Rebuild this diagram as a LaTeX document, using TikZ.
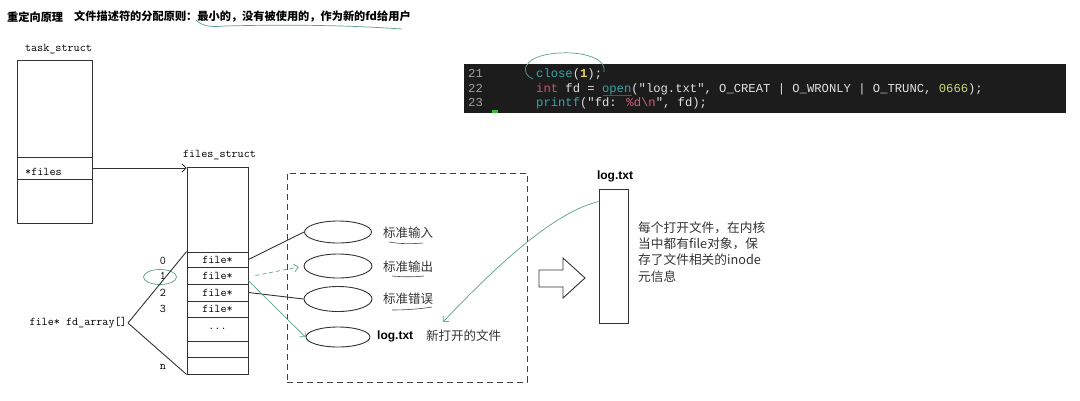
\documentclass[tikz,border=0pt]{standalone}
\usepackage{fontspec}
\usetikzlibrary{shapes.geometric,calc,arrows.meta}
\newfontfamily\cjk{Noto Sans CJK SC}
\newfontfamily\codef{Liberation Mono}
\newfontfamily\lsans{Liberation Sans}
\definecolor{handgreen}{RGB}{92,160,140}
\definecolor{darkhand}{RGB}{50,100,85}
\definecolor{codebg}{RGB}{28,28,28}
\definecolor{codewhite}{RGB}{225,225,225}
\definecolor{cfn}{RGB}{58,165,165}
\definecolor{ckw}{RGB}{210,82,110}
\definecolor{cone}{RGB}{232,215,90}
\definecolor{cnum}{RGB}{200,214,125}
\definecolor{cfmt}{RGB}{212,96,122}
\definecolor{clnum}{RGB}{160,160,160}
\definecolor{cursorgreen}{RGB}{46,192,46}
\begin{document}
\begin{tikzpicture}[x=1pt,y=-1pt,
  box/.style={draw=black!80, line width=0.9pt, inner sep=0pt},
  mono/.style={font=\ttfamily\fontsize{11.8}{13}\selectfont, text=black, inner sep=0pt},
  lab/.style={font=\cjk\fontsize{12.5}{14}\selectfont, text=black!80, inner sep=0pt, anchor=base west},
  fileov/.style={draw=black!80, line width=0.9pt, ellipse, inner sep=0pt},
  hand/.style={draw=handgreen, line width=0.7pt},
  conn/.style={draw=black!80, line width=0.9pt},
  codetxt/.style={font=\codef\fontsize{12.2}{14}\selectfont, text=codewhite, inner sep=0pt, anchor=base west},
  barb/.style={-{Straight Barb[length=4pt,width=8pt]}}
]
\useasboundingbox (0,0) rectangle (1080,400);

% title
\node[anchor=west, inner sep=0pt, font=\cjk\bfseries\fontsize{11.2}{13}\selectfont] (t1) at (7,17) {重定向原理};
\node[anchor=west, inner sep=0pt, font=\cjk\bfseries\fontsize{11.2}{13}\selectfont] (t2) at (74,17) {文件描述符的分配原则：最小的，没有被使用的，作为新的fd给用户};
\draw[hand] (196,20) .. controls (203,27) and (212,27) .. (225,26) .. controls (300,24) and (360,26) .. (402,29);

% task_struct
\node[mono, anchor=base] (tasklbl) at (58.5,51) {task\_struct};
\node[box, minimum width=75pt, minimum height=163pt] (task) at (54.5,141.5) {};
\node[box, minimum width=75pt, minimum height=22pt] (filesf) at (54.5,168) {};
\node[mono, anchor=base west] (fileslbl) at (25,175) {*files};

% files_struct
\node[mono, anchor=base] (fslbl) at (219.5,157) {files\_struct};
\node[box, minimum width=61pt, minimum height=207pt] (fs) at (217.5,270.5) {};
\node[box, mono, minimum width=61pt, minimum height=15pt] (r0) at (217.5,259.5) {file*};
\node[box, mono, minimum width=61pt, minimum height=17pt] (r1) at (217.5,275.5) {file*};
\node[box, mono, minimum width=61pt, minimum height=17pt] (r2) at (217.5,292.5) {file*};
\node[box, mono, minimum width=61pt, minimum height=16pt] (r3) at (217.5,309) {file*};
\node[box, mono, minimum width=61pt, minimum height=24pt] (rd) at (217.5,329) {...};
\node[box, mono, minimum width=61pt, minimum height=16pt] (r5) at (217.5,349) {};
\node[box, mono, minimum width=61pt, minimum height=17pt] (rn) at (217.5,365.5) {};

\draw[conn, barb] (filesf.east) -- (filesf.east -| fs.west);

% indices
\node[mono] (i0) at (163,261) {0};
\node[mono] (i1) at (163,276) {1};
\node[mono] (i2) at (163,293) {2};
\node[mono] (i3) at (163,309) {3};
\node[mono] (in) at (163,367) {n};
\draw[hand] (160,277) ellipse [x radius=16.5, y radius=7.5];

\node[mono, anchor=east, inner sep=1pt] (fdarr) at (128,323) {file* fd\_array[]};
\draw[conn] (fdarr.east) -- (r0.north west);
\draw[conn] (fdarr.east) -- (rn.south west);

% dashed box with file objects
\node[draw=black!75, line width=0.9pt, dash pattern=on 6pt off 4pt, minimum width=240pt, minimum height=209pt, inner sep=0pt] (dbox) at (407,277.5) {};
\node[fileov, minimum width=67pt, minimum height=22pt] (e1) at (338,232) {};
\node[fileov, minimum width=68pt, minimum height=24pt] (e2) at (338,266) {};
\node[fileov, minimum width=68pt, minimum height=25pt] (e3) at (338,299) {};
\node[fileov, minimum width=64pt, minimum height=20pt] (e4) at (338,337) {};

\node[lab] (l1) at (383,237) {标准输入};
\node[lab] (l2) at (383,271) {标准输出};
\node[lab] (l3) at (383,303) {标准错误};
\node[font=\lsans\bfseries\fontsize{12}{14}\selectfont, inner sep=0pt, anchor=base west] (l4) at (377,339) {log.txt};
\node[lab] (newf) at (426,340) {新打开的文件};
\draw[black!70, line width=0.6pt] (389,242) .. controls (400,244) and (412,244) .. (423,243);
\draw[black!70, line width=0.6pt] (392,276) .. controls (403,277) and (414,277) .. (424,276);
\draw[black!70, line width=0.6pt] (392,310) .. controls (405,310) and (420,309) .. (432,307);

\draw[conn] (r0.east) -- (e1.west);
\draw[conn] (r2.east) -- (e3.west);
\draw[handgreen, line width=0.7pt, dash pattern=on 4pt off 3pt, barb, shorten >=5pt] ([xshift=7pt]r1.east) -- (e2.west);
\draw[hand, barb] ($(r1.east)+(0,5)$) .. controls (268,300) and (290,322) .. (e4.west);

% hollow arrow
\draw[conn] (539,270) -- (563,270) -- (563,258) -- (585,278) -- (563,298) -- (563,287) -- (539,287) -- cycle;

% log.txt file object
\node[font=\lsans\bfseries\fontsize{12}{14}\selectfont, inner sep=0pt, anchor=base] (loglbl) at (615,179) {log.txt};
\node[box, minimum width=29pt, minimum height=134pt] (logbox) at (613.5,256) {};
\coordinate (lgend) at (443,322);
\draw[hand, barb] ($(logbox.north west)+(0,13)$) .. controls (555,212) and (500,262) .. (lgend);

\node[lab, font=\cjk\fontsize{12.7}{14}\selectfont] (p1) at (638,232) {每个打开文件，在内核};
\node[lab, font=\cjk\fontsize{12.7}{14}\selectfont] (p2) at (638,248) {当中都有file对象，保};
\node[lab, font=\cjk\fontsize{12.7}{14}\selectfont] (p3) at (638,264) {存了文件相关的inode};
\node[lab, font=\cjk\fontsize{12.7}{14}\selectfont] (p4) at (638,281) {元信息};

% code block
\node[fill=codebg, minimum width=602pt, minimum height=49pt, inner sep=0pt, anchor=north west] (code) at (464,64) {};
\node[codetxt, text=clnum] (n21) at (468,77) {21};
\node[codetxt, text=clnum] (n22) at (468,92) {22};
\node[codetxt, text=clnum] (n23) at (468,106) {23};
\node[codetxt] (c21) at (536,77) {\textcolor{cfn}{close}(\textcolor{cone}{\bfseries 1});};
\node[codetxt] (c22) at (536,92) {\textcolor{ckw}{int} fd = \textcolor{cfn}{open}("log.txt", O\_CREAT | O\_WRONLY | O\_TRUNC, \textcolor{cnum}{0666});};
\node[codetxt] (c23) at (536,106) {\textcolor{cfn}{printf}("fd: \textcolor{cfmt}{\%d\textbackslash n}", fd);};
\fill[cursorgreen] (492,109.5) rectangle (498,113);
\draw[hand] (604,72) .. controls (607,56) and (575,50) .. (550,54) .. controls (522,58) and (520,74) .. (533,79);
\draw[darkhand, line width=0.7pt] (603,95) -- (632,95);
\end{tikzpicture}
\end{document}
